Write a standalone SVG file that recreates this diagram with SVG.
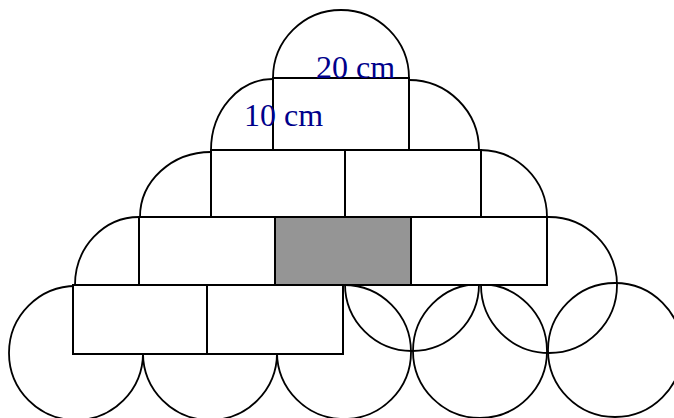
<svg xmlns="http://www.w3.org/2000/svg" width="674" height="418" viewBox="0 0 674 418">
<style>
.c{fill:none;stroke:#000;stroke-width:1.8}
.r{fill:#fff;stroke:#000;stroke-width:2}
.g{fill:#959595;stroke:#000;stroke-width:2}
.t{font-family:"Liberation Serif","Times New Roman",serif;font-size:32px;fill:#00008b}
</style>
<rect width="674" height="418" fill="#fff"/>
<g id="circles">
<circle class="c" cx="76" cy="353" r="67"/>
<circle class="c" cx="210" cy="353" r="67"/>
<circle class="c" cx="344" cy="352" r="67"/>
<circle class="c" cx="480" cy="351" r="67"/>
<circle class="c" cx="615" cy="350" r="67"/>
<circle class="c" cx="412" cy="284" r="67"/>
<circle class="c" cx="549" cy="285" r="68"/>
</g>
<g id="arcs">
<path class="c" d="M273,78 A68,68 0 0 1 409,78"/>
<path class="c" d="M211,150 A62,71 0 0 1 273,79"/>
<path class="c" d="M409,80 A70,70 0 0 1 479,150"/>
<path class="c" d="M140,217 A71,65 0 0 1 211,152"/>
<path class="c" d="M480,150 A67,67 0 0 1 547,217"/>
<path class="c" d="M75,285 A64,68 0 0 1 139,217"/>
</g>
<g id="row4">
<rect class="r" x="73" y="285" width="134" height="69"/>
<rect class="r" x="207" y="285" width="136" height="69"/>
</g>
<g id="row3">
<rect class="r" x="139" y="217" width="136" height="68"/>
<rect class="g" x="275" y="217" width="136" height="68"/>
<rect class="r" x="411" y="217" width="136" height="68"/>
</g>
<g id="row2">
<rect class="r" x="211" y="150" width="134" height="67"/>
<rect class="r" x="345" y="150" width="136" height="67"/>
</g>
<g id="row1">
<rect class="r" x="273" y="78" width="136" height="72"/>
</g>
<g id="labels">
<text class="t" x="316" y="78">20 cm</text>
<text class="t" x="244" y="126">10 cm</text>
</g>
</svg>
